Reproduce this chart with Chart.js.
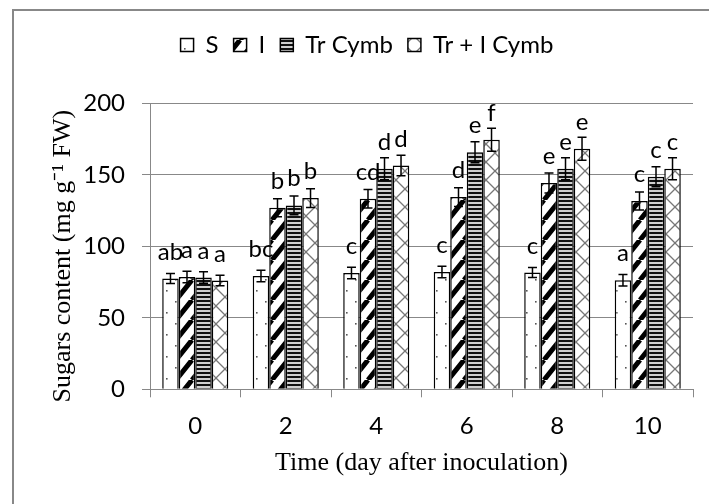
<!DOCTYPE html>
<html>
<head>
    <title>Sugars content</title>
    <script src="https://cdn.jsdelivr.net/npm/chart.js"></script>
    <style>
        body { margin: 0; background: #fff; }
        #wrap { width: 709px; height: 504px; position: relative; }
    </style>
</head>
<body>
    <div id="wrap"><canvas id="myChart"></canvas></div>
    <script>
        const days = ['0', '2', '4', '6', '8', '10'];
        const seriesNames = ['S', 'I', 'Tr Cymb', 'Tr + I Cymb'];

        const sugarS = [77.5, 79.3, 81.4, 82.1, 81.7, 76.3];
        const sugarI = [78.6, 127, 133.4, 134.5, 144.3, 131.7];
        const sugarTr = [78.2, 128.7, 154.3, 165.9, 154.3, 148.8];
        const sugarTrI = [76.1, 133.8, 156.6, 174.6, 168.3, 154.3];

        const errS = [3.5, 4, 4, 4, 3.5, 4];
        const errI = [4, 6.3, 6.5, 6.5, 7, 6.3];
        const errTr = [4, 6.5, 7.7, 7.4, 7.7, 7];
        const errTrI = [3.7, 6.5, 7.2, 8, 8, 7.7];

        const lettersS = ['ab', 'bc', 'c', 'c', 'c', 'a'];
        const lettersI = ['a', 'b', 'cd', 'd', 'e', 'c'];
        const lettersTr = ['a', 'b', 'd', 'e', 'e', 'c'];
        const lettersTrI = ['a', 'b', 'd', 'f', 'e', 'c'];

        const errors = [errS, errI, errTr, errTrI];
        const letters = [lettersS, lettersI, lettersTr, lettersTrI];

        Chart.defaults.font.family = 'Lato';
        Chart.defaults.color = '#000';

        // small canvas tiles used as bar fills
        function makePattern(w, h, draw) {
            const c = document.createElement('canvas');
            c.width = w; c.height = h;
            const g = c.getContext('2d');
            g.fillStyle = '#fff';
            g.fillRect(0, 0, w, h);
            draw(g, w, h);
            return g.createPattern(c, 'repeat');
        }

        const dotFill = makePattern(18, 22, (g) => {
            g.fillStyle = '#555';
            g.fillRect(4, 4, 1.6, 1.6);
            g.fillRect(13, 15, 1.6, 1.6);
        });
        const diagFill = makePattern(16, 20, (g, w, h) => {
            g.strokeStyle = '#000';
            g.lineWidth = 5;
            g.beginPath();
            for (let k = -1; k <= 1; k++) {
                g.moveTo(k * w, h);
                g.lineTo(k * w + w, 0);
            }
            g.stroke();
        });
        const stripeFill = makePattern(4, 4, (g) => {
            g.fillStyle = '#111';
            g.fillRect(0, 0, 4, 2);
            g.fillStyle = '#d0d0d0';
            g.fillRect(0, 2, 4, 2);
        });
        const crossFill = makePattern(18, 18, (g, w, h) => {
            g.strokeStyle = '#777';
            g.lineWidth = 1.3;
            g.beginPath();
            g.moveTo(0, 0); g.lineTo(w, h);
            g.moveTo(0, h); g.lineTo(w, 0);
            g.stroke();
        });

        const frame = {
            id: 'frame',
            beforeDraw(chart) {
                const ctx = chart.ctx;
                ctx.save();
                ctx.fillStyle = '#fff';
                ctx.fillRect(0, 0, chart.width, chart.height);
                ctx.strokeStyle = '#888';
                ctx.lineWidth = 2;
                ctx.beginPath();
                ctx.moveTo(13, chart.height);
                ctx.lineTo(13, 10);
                ctx.lineTo(chart.width, 10);
                ctx.stroke();
                ctx.restore();
            }
        };

        const legendSpace = {
            id: 'legendSpace',
            beforeInit(chart) {
                const fit = chart.legend.fit;
                chart.legend.fit = function () {
                    fit.bind(chart.legend)();
                    this.height += 36.5;
                };
            }
        };

        // error bars and significance letters
        const barExtras = {
            id: 'barExtras',
            afterDatasetsDraw(chart) {
                const ctx = chart.ctx;
                const y = chart.scales.y;
                ctx.save();
                chart.data.datasets.forEach((ds, i) => {
                    chart.getDatasetMeta(i).data.forEach((bar, j) => {
                        const v = ds.data[j];
                        const e = errors[i][j];
                        const top = y.getPixelForValue(v + e);
                        const bot = y.getPixelForValue(v - e);
                        ctx.strokeStyle = '#000';
                        ctx.lineWidth = 1.5;
                        ctx.beginPath();
                        ctx.moveTo(bar.x, top); ctx.lineTo(bar.x, bot);
                        ctx.moveTo(bar.x - 4.5, top); ctx.lineTo(bar.x + 4.5, top);
                        ctx.moveTo(bar.x - 4.5, bot); ctx.lineTo(bar.x + 4.5, bot);
                        ctx.stroke();
                        ctx.fillStyle = '#000';
                        ctx.font = '24px Lato';
                        ctx.textAlign = 'center';
                        ctx.textBaseline = 'alphabetic';
                        ctx.fillText(letters[i][j], bar.x, y.getPixelForValue(v) - 19);
                    });
                });
                ctx.restore();
            }
        };

        const ctx = document.getElementById('myChart').getContext('2d');
        new Chart(ctx, {
            type: 'bar',
            data: {
                labels: days,
                datasets: [
                    { label: seriesNames[0], data: sugarS, backgroundColor: dotFill },
                    { label: seriesNames[1], data: sugarI, backgroundColor: diagFill },
                    { label: seriesNames[2], data: sugarTr, backgroundColor: stripeFill },
                    { label: seriesNames[3], data: sugarTrI, backgroundColor: crossFill }
                ].map(d => Object.assign(d, {
                    borderColor: '#000',
                    borderWidth: 1.5,
                    categoryPercentage: 0.73,
                    barPercentage: 1
                }))
            },
            options: {
                responsive: true,
                maintainAspectRatio: false,
                animation: false,
                layout: { padding: { left: 41, right: 16, top: 18, bottom: 0 } },
                plugins: {
                    tooltip: { enabled: false },
                    legend: {
                        position: 'top',
                        labels: {
                            boxWidth: 13,
                            boxHeight: 13,
                            padding: 15,
                            color: '#000',
                            font: { size: 24 }
                        }
                    }
                },
                scales: {
                    x: {
                        ticks: { padding: 15, color: '#000', font: { size: 24 } },
                        grid: { drawOnChartArea: false, color: '#888', tickLength: 8 },
                        border: { color: '#888' },
                        title: {
                            display: true,
                            text: 'Time (day after inoculation)',
                            color: '#000',
                            font: { family: 'Liberation Serif', size: 26 },
                            padding: { top: 0, bottom: 25 }
                        },
                        afterFit(scale) { scale.height = 114.7; }
                    },
                    y: {
                        min: 0,
                        max: 200,
                        ticks: { stepSize: 50, padding: 17, color: '#000', font: { size: 24 } },
                        grid: { color: '#888', tickLength: 8 },
                        border: { color: '#888' },
                        title: {
                            display: true,
                            text: 'Sugars content (mg g\u207B\u00B9 FW)   ',
                            color: '#000',
                            font: { family: 'Liberation Serif', size: 26 },
                            padding: { top: 7, bottom: 0 }
                        },
                        afterFit(scale) { scale.width = 109; }
                    }
                }
            },
            plugins: [frame, legendSpace, barExtras]
        });
    </script>
</body>
</html>
